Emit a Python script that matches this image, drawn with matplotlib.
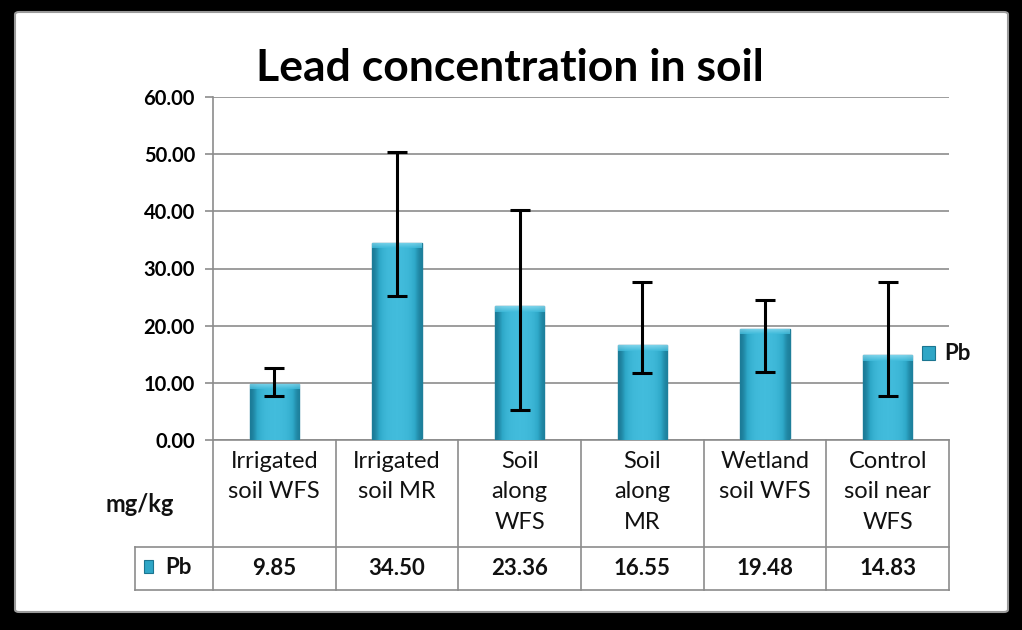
import numpy as np
import matplotlib.pyplot as plt
from matplotlib.patches import FancyBboxPatch, Rectangle
from matplotlib.transforms import blended_transform_factory

categories = ["Irrigated\nsoil WFS", "Irrigated\nsoil MR", "Soil\nalong\nWFS",
              "Soil\nalong\nMR", "Wetland\nsoil WFS", "Control\nsoil near\nWFS"]
pb_values = [9.85, 34.50, 23.36, 16.55, 19.48, 14.83]
# ends of the error bars
err_low = [7.7, 25.2, 5.2, 11.7, 11.9, 7.7]
err_high = [12.6, 50.3, 40.2, 27.6, 24.5, 27.6]
yticks = [0, 10, 20, 30, 40, 50, 60]

plt.rcParams['font.family'] = ['Lato', 'DejaVu Sans']

W, H = 1022, 630
fig = plt.figure(figsize=(W / 100, H / 100), dpi=100)
fig.patch.set_facecolor("black")

# white panel inside the black frame
panel = FancyBboxPatch((15 / W, 1 - 612 / H), (1008 - 15) / W, (612 - 12) / H,
                       boxstyle="round,pad=0,rounding_size=0.004",
                       transform=fig.transFigure, facecolor="white",
                       edgecolor="#9a9a9a", linewidth=1.5, zorder=-10)
fig.patches.append(panel)

ax = fig.add_axes([213 / W, 1 - 440 / H, (949 - 213) / W, 343 / H])
ax.set_facecolor("none")
x = np.arange(len(pb_values))

ax.set_yticks(yticks)
ax.set_yticklabels([f"{v:.2f}" for v in yticks], fontsize=14.5, fontweight="bold")
ax.tick_params(axis="y", length=6, color="#8c8c8c", width=1.2, pad=7)
ax.set_xticks([])
for s in ["top", "right", "bottom"]:
    ax.spines[s].set_visible(False)
ax.spines["left"].set_color("#8c8c8c")
ax.spines["left"].set_linewidth(1.2)
ax.yaxis.grid(True, color="#8c8c8c", linewidth=1.2)
ax.set_axisbelow(True)

bars = ax.bar(x, pb_values, width=0.4, color="#2fa6c6", edgecolor="#1f7f9a",
              linewidth=1.0, zorder=2)

# horizontal shading to mimic the bevelled bars
grad = np.array([0.0, 0.5, 0.8, 0.9, 0.95, 0.95, 0.9, 0.8, 0.55, 0.05])
cmap = plt.matplotlib.colors.LinearSegmentedColormap.from_list(
    "teal", ["#1b7a96", "#2ea8c8", "#42bcdc"])
for b in bars:
    bx, by, bw, bh = b.get_x(), b.get_y(), b.get_width(), b.get_height()
    im = ax.imshow(grad[np.newaxis, :], extent=[bx, bx + bw, by, by + bh],
                   cmap=cmap, aspect="auto", zorder=2.5, interpolation="bicubic")
    im.set_clip_path(b)
    # light bevel on the top edge
    vgrad = np.linspace(0, 1, 20)[:, np.newaxis]
    bev = ax.imshow(vgrad, extent=[bx, bx + bw, by + bh - 1.0, by + bh],
                    cmap=plt.matplotlib.colors.LinearSegmentedColormap.from_list(
                        "bev", ["#42bcdc", "#8edcf0"]),
                    aspect="auto", zorder=2.6, origin="lower", alpha=0.8)
    bev.set_clip_path(b)
ax.set_xlim(-0.5, len(pb_values) - 0.5)
ax.set_ylim(0, 60)

yerr = [np.array(pb_values) - np.array(err_low), np.array(err_high) - np.array(pb_values)]
ax.errorbar(x, pb_values, yerr=yerr, fmt="none", ecolor="black", elinewidth=2.2,
            capsize=7, capthick=2.2, zorder=3)

# data table under the plot
tr = blended_transform_factory(ax.transData, ax.transAxes)
y1 = -(547 - 440) / 343
y2 = -(590 - 440) / 343
xl = -0.5 - (213 - 135) / (736 / 6)
gc = "#8c8c8c"
ax.plot([-0.5, 5.5], [0, 0], color=gc, lw=1.2, transform=tr, clip_on=False)
ax.plot([xl, 5.5], [y1, y1], color=gc, lw=1.2, transform=tr, clip_on=False)
ax.plot([xl, 5.5], [y2, y2], color=gc, lw=1.2, transform=tr, clip_on=False)
ax.plot([xl, xl], [y1, y2], color=gc, lw=1.2, transform=tr, clip_on=False)
for b in np.arange(-0.5, 6, 1.0):
    ax.plot([b, b], [0, y2], color=gc, lw=1.2, transform=tr, clip_on=False)

for i, lab in enumerate(categories):
    ax.text(i, -(451 - 440) / 343, lab, transform=tr, ha="center", va="top",
            fontsize=17, linespacing=1.55, color="#111111")
    ax.text(i, (y1 + y2) / 2, f"{pb_values[i]:.2f}", transform=tr, ha="center",
            va="center", fontsize=16, fontweight="bold", color="#111111")

fig.text(140 / W, 1 - 505 / H, "mg/kg", ha="center", va="center", fontsize=17,
         fontweight="bold", color="#111111")
fig.patches.append(Rectangle((144 / W, 1 - 573 / H), 9 / W, 13 / H,
                             transform=fig.transFigure, facecolor="#2fa6c6",
                             edgecolor="#1b7590", lw=0.8))
fig.text(165 / W, 1 - 568 / H, "Pb", ha="left", va="center", fontsize=16,
         fontweight="bold", color="#111111")

# legend at the right
fig.patches.append(Rectangle((922 / W, 1 - 360 / H), 13 / W, 14 / H,
                             transform=fig.transFigure, facecolor="#2fa6c6",
                             edgecolor="#1b7590", lw=0.8))
fig.text(944 / W, 1 - 353 / H, "Pb", ha="left", va="center", fontsize=16,
         fontweight="bold", color="#111111")

fig.text(510 / W, 1 - 68 / H, "Lead concentration in soil", ha="center",
         va="center", fontsize=32, fontweight="bold", color="black")

fig.savefig("out.png", dpi=100, facecolor=fig.get_facecolor())
